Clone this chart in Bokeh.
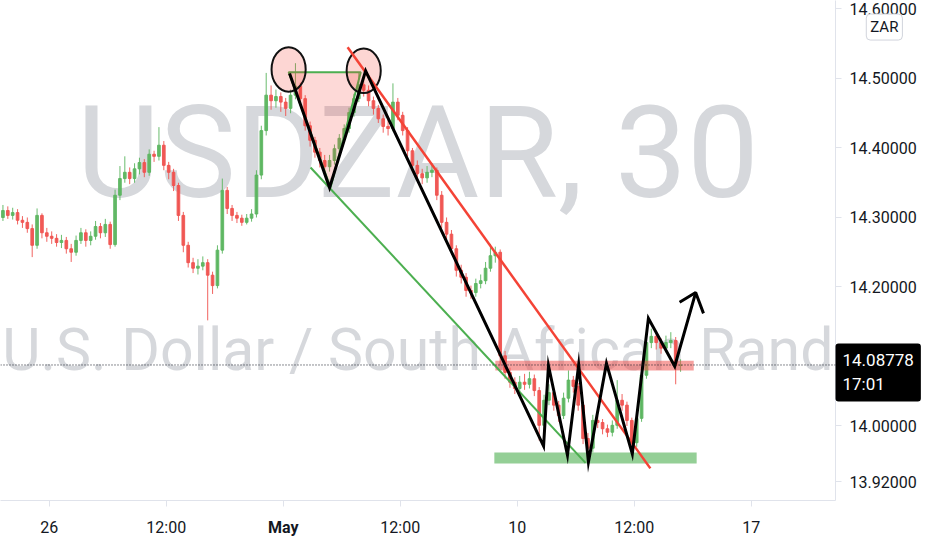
from bokeh.plotting import figure
from bokeh.models import Range1d, FixedTicker, Label, Span, PrintfTickFormatter, GridBox
from bokeh.embed import file_html
from bokeh.resources import INLINE

# ---------------- data (USDZAR, 30 min candles) ----------------
first_open = 14.300
closes = [
    14.310, 14.303, 14.307, 14.296, 14.293, 14.284, 14.260, 14.303, 14.278, 14.273,
    14.270, 14.264, 14.267, 14.255, 14.250, 14.267, 14.278, 14.267, 14.273, 14.287,
    14.278, 14.290, 14.261, 14.332, 14.356, 14.365, 14.356, 14.370, 14.379, 14.365,
    14.391, 14.388, 14.404, 14.375, 14.365, 14.346, 14.303, 14.260, 14.235, 14.227,
    14.230, 14.235, 14.217, 14.202, 14.253, 14.339, 14.313, 14.303, 14.299, 14.293,
    14.299, 14.305, 14.361, 14.425, 14.476, 14.468, 14.474, 14.466, 14.457, 14.476,
    14.489, 14.471, 14.432, 14.411, 14.394, 14.382, 14.373, 14.382, 14.399, 14.414,
    14.428, 14.451, 14.471, 14.491, 14.483, 14.468, 14.457, 14.442, 14.431, 14.428,
    14.466, 14.447, 14.425, 14.396, 14.375, 14.363, 14.357, 14.365, 14.368, 14.332,
    14.293, 14.276, 14.255, 14.224, 14.214, 14.195, 14.192, 14.205, 14.209, 14.227,
    14.245, 14.250, 14.101, 14.077, 14.063, 14.054, 14.063, 14.060, 14.068, 14.051,
    14.001, 14.037, 14.048, 14.030, 14.015, 14.040, 14.066, 14.057, 14.030, 13.982,
    13.968, 14.008, 14.005, 13.996, 13.991, 14.001, 14.037, 14.030, 14.008, 13.976,
    14.011, 14.073, 14.120, 14.129, 14.120, 14.112, 14.120, 14.123, 14.087, 14.08778,
]
highs = [
    14.318, 14.316, 14.314, 14.312, 14.302, 14.300, 14.290, 14.313, 14.306, 14.285,
    14.280, 14.276, 14.275, 14.272, 14.262, 14.274, 14.285, 14.283, 14.280, 14.295,
    14.292, 14.298, 14.294, 14.340, 14.374, 14.388, 14.372, 14.378, 14.386, 14.384,
    14.398, 14.396, 14.430, 14.410, 14.380, 14.370, 14.350, 14.308, 14.265, 14.242,
    14.240, 14.244, 14.240, 14.222, 14.260, 14.356, 14.344, 14.318, 14.308, 14.304,
    14.305, 14.312, 14.368, 14.432, 14.508, 14.490, 14.484, 14.480, 14.472, 14.484,
    14.522, 14.494, 14.476, 14.438, 14.416, 14.400, 14.390, 14.390, 14.405, 14.420,
    14.434, 14.458, 14.478, 14.508, 14.500, 14.490, 14.474, 14.462, 14.448, 14.440,
    14.493, 14.472, 14.452, 14.430, 14.400, 14.382, 14.370, 14.374, 14.378, 14.372,
    14.338, 14.300, 14.282, 14.260, 14.232, 14.220, 14.202, 14.212, 14.218, 14.236,
    14.262, 14.258, 14.254, 14.108, 14.084, 14.070, 14.072, 14.075, 14.078, 14.074,
    14.056, 14.045, 14.060, 14.054, 14.036, 14.048, 14.080, 14.072, 14.062, 14.035,
    13.990, 14.016, 14.014, 14.010, 14.002, 14.008, 14.066, 14.046, 14.035, 14.012,
    14.018, 14.080, 14.128, 14.140, 14.134, 14.126, 14.130, 14.135, 14.128, 14.096,
]
lows = [
    14.295, 14.298, 14.297, 14.290, 14.285, 14.278, 14.243, 14.255, 14.270, 14.265,
    14.262, 14.258, 14.256, 14.248, 14.236, 14.245, 14.262, 14.258, 14.260, 14.268,
    14.270, 14.272, 14.255, 14.258, 14.325, 14.350, 14.348, 14.350, 14.362, 14.358,
    14.360, 14.380, 14.382, 14.368, 14.355, 14.338, 14.295, 14.250, 14.228, 14.220,
    14.218, 14.224, 14.152, 14.190, 14.198, 14.248, 14.305, 14.295, 14.292, 14.288,
    14.290, 14.294, 14.300, 14.355, 14.418, 14.455, 14.458, 14.452, 14.446, 14.450,
    14.470, 14.462, 14.425, 14.402, 14.386, 14.372, 14.362, 14.366, 14.376, 14.394,
    14.408, 14.422, 14.445, 14.466, 14.474, 14.460, 14.448, 14.436, 14.422, 14.418,
    14.424, 14.440, 14.418, 14.388, 14.366, 14.355, 14.348, 14.350, 14.358, 14.325,
    14.285, 14.268, 14.246, 14.215, 14.205, 14.186, 14.183, 14.186, 14.198, 14.204,
    14.222, 14.235, 14.087, 14.068, 14.055, 14.046, 14.047, 14.052, 14.054, 14.043,
    13.979, 13.994, 14.030, 14.022, 14.006, 14.010, 14.034, 14.048, 14.022, 13.974,
    13.952, 13.962, 13.997, 13.988, 13.984, 13.985, 13.996, 14.022, 14.000, 13.965,
    13.970, 14.006, 14.068, 14.112, 14.110, 14.104, 14.106, 14.112, 14.060, 14.078,
]
last_price = 14.08778
last_time_left = "17:01"

price_ticks = [13.92, 14.0, 14.1, 14.2, 14.3, 14.4, 14.5, 14.6]
time_tick_pos = [10, 34, 58, 82, 106, 130, 154]          # bar index of each time label
time_tick_labels = ["26", "12:00", "May", "12:00", "10", "12:00", "17"]

# drawings (anchors in bar index / price)
circle_x = [59.1, 74.5]
circle_y = [14.513, 14.511]
triangle_x = [59.1, 73.9, 67.7]
triangle_y = [14.509, 14.509, 14.343]
zigzag_x = [59.3, 67.5, 74.9, 111.4, 112.4, 116.3, 118.6, 120.6, 124.3, 129.6, 132.9, 138.3, 142.6]
zigzag_y = [14.507, 14.343, 14.511, 13.971, 14.087, 13.958, 14.088, 13.948, 14.090, 13.960, 14.155, 14.086, 14.192]
arrow_x = [139.3, 142.6, 144.2]
arrow_y = [14.178, 14.192, 14.162]
green_trend_x = [63.6, 120.0]
green_trend_y = [14.372, 13.947]
red_trend_x = [71.2, 133.3]
red_trend_y = [14.545, 13.939]
resistance = dict(left=101.5, right=142.2, bottom=14.080, top=14.094)
support = dict(left=101.3, right=142.8, bottom=13.946, top=13.962)

# ---------------- main figure ----------------
W, H = 932, 550
FRAME_W, FRAME_H = 835, 500
X0, X1 = 0.0, 171.28
Y0, Y1 = 13.8928, 14.6122
p = figure(width=W, height=H,
           x_range=Range1d(X0, X1), y_range=Range1d(Y0, Y1),
           y_axis_location="right", output_backend="svg", toolbar_location=None,
           min_border_left=0, min_border_top=0,
           min_border_right=W - FRAME_W, min_border_bottom=H - FRAME_H)
p.outline_line_color = None
p.grid.visible = False
p.background_fill_color = "white"
p.border_fill_color = "white"

# watermark
p.add_layout(Label(x=85.6, y=14.3935, text="USDZAR, 30", text_align="center",
                   text_baseline="alphabetic", text_font="Roboto",
                   text_font_size="128px", text_color="#d6d8dc", level="underlay"))
p.add_layout(Label(x=85.6, y=14.1101, text="U.S. Dollar / South African Rand", text_align="center",
                   text_baseline="alphabetic", text_font="Roboto",
                   text_font_size="59px", text_color="#d6d8dc", level="underlay"))

# candles
up_col, dn_col = "#5ab55e", "#f0524f"
opens = [first_open] + closes[:-1]
xs = [i + 0.5 for i in range(len(closes))]
cols = [up_col if c >= o else dn_col for o, c in zip(opens, closes)]
tops = [max(o, c) for o, c in zip(opens, closes)]
bots = [min(o, c) for o, c in zip(opens, closes)]
p.segment(x0=xs, y0=highs, x1=xs, y1=lows, line_color=cols, line_width=1, line_alpha=0.9)
p.vbar(x=xs, width=0.55, top=tops, bottom=bots, fill_color=cols, line_color=cols,
       fill_alpha=0.9, line_alpha=0.9)

# bands
p.quad(left=[resistance["left"]], right=[resistance["right"]], bottom=[resistance["bottom"]],
       top=[resistance["top"]], fill_color="#ef5350", fill_alpha=0.55, line_color=None)
p.quad(left=[support["left"]], right=[support["right"]], bottom=[support["bottom"]],
       top=[support["top"]], fill_color="#4caf50", fill_alpha=0.6, line_color=None)

# triangle + circles
p.patch(triangle_x, triangle_y, fill_color="#f44336", fill_alpha=0.2,
        line_color="#4caf50", line_width=2)
p.ellipse(x=circle_x, y=circle_y, width=7.0, height=0.064, fill_color="#f44336",
          fill_alpha=0.22, line_color="#111111", line_width=2)

# trend lines
p.line(green_trend_x, green_trend_y, line_color="#4caf50", line_width=2)
p.line(red_trend_x, red_trend_y, line_color="#f44336", line_width=2.5)

# zigzag + arrow
p.line(zigzag_x, zigzag_y, line_color="black", line_width=3, line_join="miter")
p.line(arrow_x, arrow_y, line_color="black", line_width=3)

# last price line
p.add_layout(Span(location=last_price, dimension="width", line_color="#131722",
                  line_dash="1 2", line_width=1))

# axes
p.yaxis.ticker = FixedTicker(ticks=price_ticks)
p.yaxis.formatter = PrintfTickFormatter(format="%.5f")
p.xaxis.ticker = FixedTicker(ticks=time_tick_pos)
overrides = {}
for pos, lab in zip(time_tick_pos, time_tick_labels):
    overrides[pos] = "" if lab == "May" else lab
p.xaxis.major_label_overrides = overrides
for ax in (p.xaxis, p.yaxis):
    ax.axis_line_color = "#e0e3eb"
    ax.major_tick_line_color = "#e0e3eb"
    ax.minor_tick_line_color = None
    ax.major_tick_in = 0
    ax.major_tick_out = 6
    ax.major_label_text_font = "Roboto"
    ax.major_label_text_font_size = "16px"
    ax.major_label_text_color = "#131722"
p.yaxis.major_label_standoff = 8
p.xaxis.major_label_standoff = 11

# ---------------- transparent overlay with the same frame; its labels live in side panels ----------------
q = figure(width=W, height=H,
           x_range=Range1d(X0, X1), y_range=Range1d(Y0, Y1),
           x_axis_location=None, y_axis_location=None,
           output_backend="svg", toolbar_location=None,
           min_border_left=0, min_border_top=0,
           min_border_right=W - FRAME_W, min_border_bottom=H - FRAME_H)
q.outline_line_color = None
q.grid.visible = False
q.background_fill_color = None
q.border_fill_color = None

# last price tag on the price axis
q.add_layout(Label(x=X1, y=14.0770, text=f"{last_price:.5f}\n{last_time_left}",
                   text_align="left", text_baseline="middle", text_color="white",
                   text_font="Roboto", text_font_size="17px",
                   background_fill_color="black", background_fill_alpha=1.0,
                   padding=7, border_radius=3), "right")

# bold month label on the time axis
for pos, lab in zip(time_tick_pos, time_tick_labels):
    if lab == "May":
        q.add_layout(Label(x=pos, y=13.8540, text=lab, text_align="center",
                           text_baseline="middle", text_font="Roboto", text_font_size="16px",
                           text_font_style="bold", text_color="#131722"), "below")

# currency box
q.add_layout(Label(x=181.3, y=14.574, text="ZAR", text_align="center",
                   text_baseline="middle", text_color="#131722", text_font="Roboto",
                   text_font_size="15px", background_fill_color="white", background_fill_alpha=1.0,
                   border_line_color="#d1d4dc", padding=4, border_radius=4), "below")

layout = GridBox(children=[(p, 0, 0), (q, 0, 0)])
open("out.html", "w").write(file_html(layout, INLINE))
